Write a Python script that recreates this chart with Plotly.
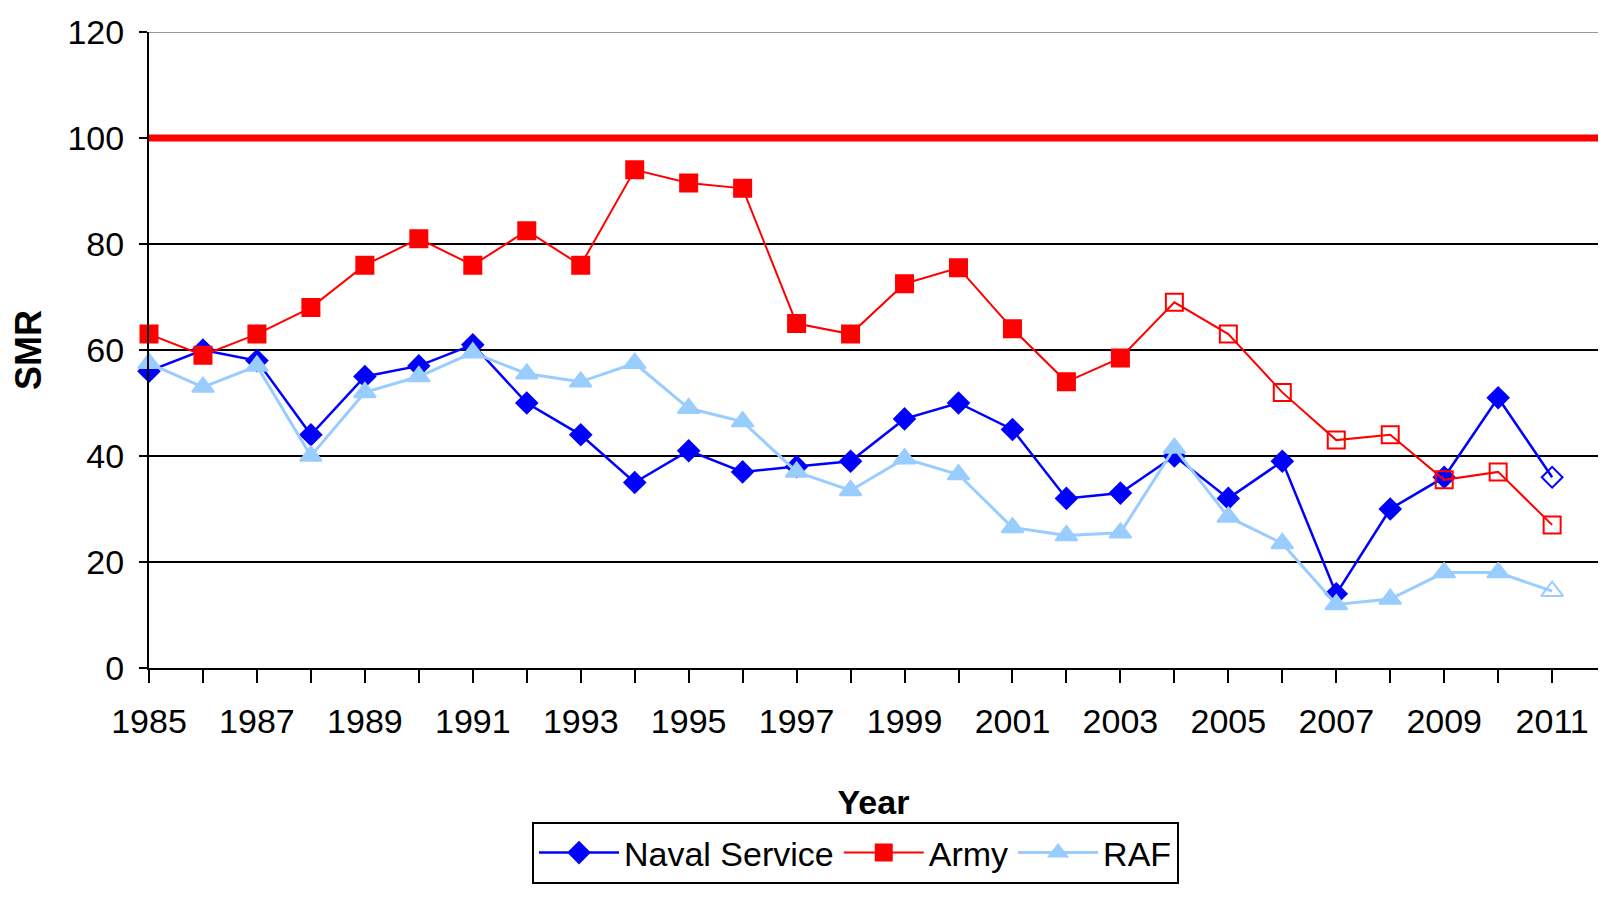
import plotly.graph_objects as go

years = list(range(1985, 2012))
naval = [56, 60, 58, 44, 55, 57, 61, 50, 44, 35, 41, 37, 38, 39, 47, 50, 45, 32, 33, 40, 32, 39, 14, 30, 36, 51, 36]
army = [63, 59, 63, 68, 76, 81, 76, 82.5, 76, 94, 91.5, 90.5, 65, 63, 72.5, 75.5, 64, 54, 58.5, 69, 63, 52, 43, 44, 35.5, 37, 27]
raf = [57.5, 53, 57, 40, 52, 55, 59.5, 55.5, 54, 57.5, 49, 46.5, 37, 33.5, 39.5, 36.5, 26.5, 25, 25.5, 41.5, 28.5, 23.5, 12, 13, 18, 18, 14.5]
# points drawn with hollow markers in the original
naval_open = [2011]
army_open = [2004, 2005, 2006, 2007, 2008, 2009, 2010, 2011]
raf_open = [2011]
reference_smr = 100
y_ticks = [0, 20, 40, 60, 80, 100, 120]
x_label_years = list(range(1985, 2012, 2))

FONT = "Liberation Sans, Arial, sans-serif"
W, H = 1590, 888  # page body adds an 8px offset; keep page from scrolling

def symbols(base, open_years):
    return [base + "-open" if y in open_years else base for y in years]

fig = go.Figure()

fig.add_trace(go.Scatter(
    x=years, y=naval, name="Naval Service", mode="lines+markers",
    line=dict(color="#0000FF", width=2.5),
    marker=dict(symbol=symbols("diamond", naval_open), size=16, color="#0000FF",
                line=dict(width=2, color="#0000FF")),
    cliponaxis=False, legendrank=1,
))
fig.add_trace(go.Scatter(
    x=years, y=raf, name="RAF", mode="lines+markers",
    line=dict(color="#99CCFF", width=3),
    marker=dict(symbol=symbols("triangle-up", raf_open), size=19, color="#99CCFF",
                line=dict(width=2, color="#99CCFF")),
    cliponaxis=False, legendrank=3,
))
fig.add_trace(go.Scatter(
    x=years, y=army, name="Army", mode="lines+markers",
    line=dict(color="#FF0000", width=2),
    marker=dict(symbol=symbols("square", army_open), size=17, color="#FF0000",
                line=dict(width=2, color="#FF0000")),
    cliponaxis=False, legendrank=2,
))

# reference line at SMR = 100
fig.add_shape(type="line", xref="paper", yref="y", x0=0, x1=1,
              y0=reference_smr, y1=reference_smr,
              line=dict(color="#FF0000", width=7), layer="above")
# top border line (grey)
fig.add_shape(type="line", xref="paper", yref="y", x0=0, x1=1,
              y0=y_ticks[-1], y1=y_ticks[-1],
              line=dict(color="#999999", width=2), layer="above")

fig.update_layout(
    width=W, height=H,
    margin=dict(l=141, r=0, t=24, b=228, autoexpand=False),
    plot_bgcolor="white", paper_bgcolor="white",
    font=dict(family=FONT, size=34, color="black"),
    showlegend=True,
    legend=dict(
        orientation="h", xref="container", yref="container",
        x=(532 - 8) / W, y=1 - (822 - 8) / H, xanchor="left", yanchor="top",
        bordercolor="black", borderwidth=2, bgcolor="white",
        font=dict(family=FONT, size=34, color="black"),
        itemwidth=80, tracegroupgap=0, traceorder="normal",
    ),
    xaxis=dict(
        range=[1985, 2011.85], automargin=False,
        tickvals=years,
        ticktext=[str(y) if y in x_label_years else "" for y in years],
        ticks="outside", ticklen=13, tickwidth=2, tickcolor="black",
        showline=True, linecolor="black", linewidth=2,
        showgrid=False, zeroline=False,
        tickfont=dict(family=FONT, size=34, color="black"),
        ticklabelstandoff=9,
        title=dict(text="<b>Year</b>", font=dict(family=FONT, size=34, color="black"), standoff=51),
    ),
    yaxis=dict(
        range=[0, 120], automargin=False,
        tickvals=y_ticks,
        ticks="outside", ticklen=8, tickwidth=2, tickcolor="black",
        showline=True, linecolor="black", linewidth=2,
        showgrid=True, gridcolor="black", gridwidth=2,
        zeroline=False,
        tickfont=dict(family=FONT, size=34, color="black"),
        ticklabelstandoff=8,
        title=dict(text="<b>SMR</b>", font=dict(family=FONT, size=36, color="black"), standoff=20),
    ),
)

fig.write_html("out.html")
